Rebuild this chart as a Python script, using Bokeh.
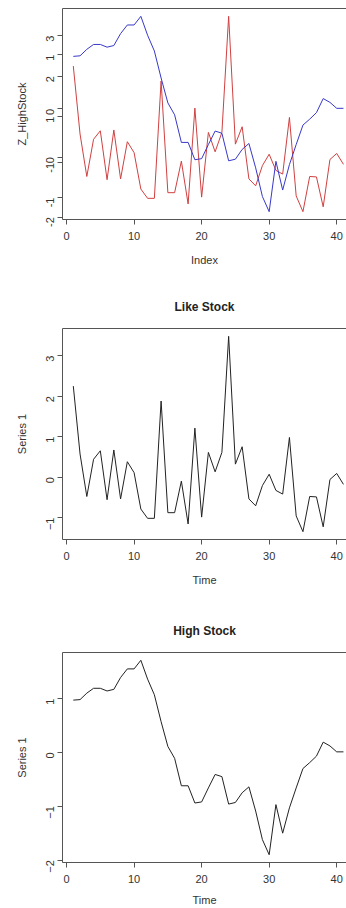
import math
from bokeh.plotting import figure
from bokeh.models import Range1d, FixedTicker, LinearAxis
from bokeh.layouts import column
from bokeh.embed import file_html
from bokeh.resources import INLINE

index = list(range(1, 42))
like_stock = [2.25, 0.57, -0.48, 0.44, 0.65, -0.56, 0.67, -0.54, 0.38, 0.11,
              -0.79, -1.02, -1.02, 1.88, -0.88, -0.88, -0.10, -1.16, 1.21, -0.99,
              0.61, 0.13, 0.61, 3.48, 0.32, 0.75, -0.54, -0.71, -0.21, 0.07,
              -0.33, -0.42, 0.98, -0.96, -1.35, -0.48, -0.49, -1.23, -0.06, 0.09,
              -0.18]
high_stock = [0.97, 0.98, 1.10, 1.19, 1.19, 1.14, 1.17, 1.39, 1.55, 1.55,
              1.71, 1.36, 1.07, 0.57, 0.11, -0.11, -0.62, -0.62, -0.94, -0.92,
              -0.66, -0.41, -0.45, -0.96, -0.93, -0.75, -0.64, -1.09, -1.62, -1.90,
              -0.97, -1.50, -1.03, -0.66, -0.30, -0.19, -0.07, 0.19, 0.12, 0.01,
              0.01]
x_ticks = [0, 10, 20, 30, 40]
like_ticks = [-1, 0, 1, 2, 3]
high_ticks = [-2, -1, 0, 1]

FONT = "Liberation Sans"
AX = "#555555"
TXT = "#333333"


def padded(vals):
    lo, hi = min(vals), max(vals)
    r = hi - lo
    return lo - 0.04 * r, hi + 0.04 * r


def make_fig(height, top, bottom, y_range, title=None, xlabel="Time", ylabel="Series 1",
             xlabel_standoff=11):
    p = figure(width=346, height=height, x_range=Range1d(-0.6, 41.45), y_range=y_range,
               output_backend="svg", toolbar_location=None,
               min_border_left=62, min_border_right=0, min_border_top=top,
               min_border_bottom=bottom, x_axis_location=None, y_axis_location=None)
    p.grid.visible = False
    p.outline_line_color = None
    p.background_fill_color = "white"
    p.border_fill_color = "white"
    xa = LinearAxis(ticker=FixedTicker(ticks=x_ticks), axis_label=xlabel)
    ya = LinearAxis(axis_label=ylabel)
    for a in (xa, ya):
        a.axis_line_color = AX
        a.major_tick_line_color = AX
        a.minor_tick_line_color = None
        a.major_tick_in = 0
        a.major_tick_out = 5
        a.major_label_text_font = FONT
        a.major_label_text_font_size = "11px"
        a.major_label_text_color = TXT
        a.axis_label_text_font = FONT
        a.axis_label_text_font_size = "11px"
        a.axis_label_text_font_style = "normal"
        a.axis_label_text_color = TXT
        a.major_label_standoff = 7
    xa.axis_label_standoff = xlabel_standoff
    ya.axis_label_standoff = 12
    ya.major_label_orientation = math.pi / 2
    p.add_layout(xa, "below")
    p.add_layout(ya, "left")
    # top border of the box; the panel title rides on it as its label
    top_ax = LinearAxis(ticker=FixedTicker(ticks=[]), major_tick_out=0, major_tick_in=0,
                        major_label_standoff=0, major_label_text_font_size="0px",
                        axis_line_color=AX, minor_tick_line_color=None)
    if title:
        top_ax.axis_label = title
        top_ax.axis_label_text_font = FONT
        top_ax.axis_label_text_font_size = "12px"
        top_ax.axis_label_text_font_style = "bold"
        top_ax.axis_label_text_color = "#222222"
        top_ax.axis_label_standoff = 15
    p.add_layout(top_ax, "above")
    return p, ya


# ---- panel 1: both series on one plot, two overlaid scales ----
lo_r, hi_r = padded(like_stock)
lo_b, hi_b = padded(high_stock)
p1, ya1 = make_fig(290, 8, 71, Range1d(lo_r, hi_r), xlabel="Index", ylabel="Z_HighStock")
p1.extra_y_ranges = {"high": Range1d(lo_b, hi_b)}


def to_red(b):
    return lo_r + (b - lo_b) * (hi_r - lo_r) / (hi_b - lo_b)


tick_pos = [float(t) for t in like_ticks]
overrides = {float(t): str(t) for t in like_ticks}
for b in high_ticks:
    pos = round(to_red(b), 6)
    tick_pos.append(pos)
    overrides[pos] = str(b)
ya1.ticker = FixedTicker(ticks=tick_pos)
ya1.major_label_overrides = overrides

p1.line(index, like_stock, line_color="#d04040", line_width=1)
p1.line(index, high_stock, line_color="#3838c8", line_width=1, y_range_name="high")

# ---- panel 2: Like Stock ----
p2, ya2 = make_fig(324, 38, 75, Range1d(*padded(like_stock)), title="Like Stock")
ya2.ticker = FixedTicker(ticks=like_ticks)
p2.line(index, like_stock, line_color="#222222", line_width=1)

# ---- panel 3: High Stock ----
p3, ya3 = make_fig(294, 38, 45, Range1d(*padded(high_stock)), title="High Stock",
                   xlabel_standoff=8)
ya3.ticker = FixedTicker(ticks=high_ticks)
p3.line(index, high_stock, line_color="#222222", line_width=1)

layout = column(p1, p2, p3, spacing=0)
open("out.html", "w").write(file_html(layout, INLINE))
